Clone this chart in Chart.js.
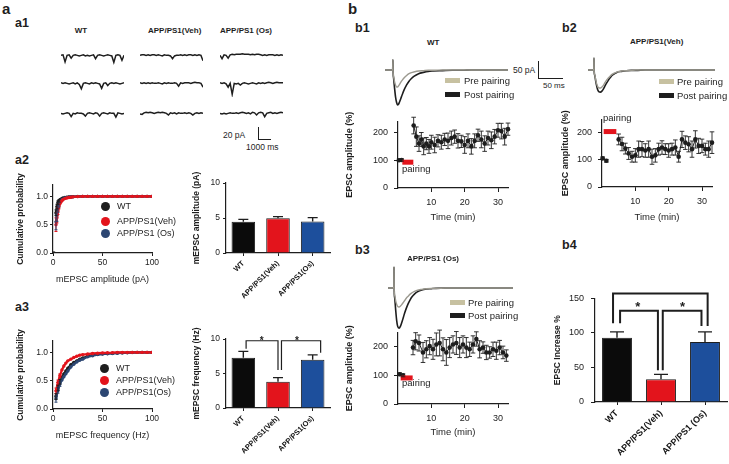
<!DOCTYPE html>
<html><head><meta charset="utf-8">
<script src="https://cdn.jsdelivr.net/npm/chart.js@4/dist/chart.umd.min.js"></script>
<style>
html,body{margin:0;padding:0;background:#fff;}
#page{position:relative;width:729px;height:464px;overflow:hidden;font-family:"Liberation Sans",Arial,sans-serif;color:#1e1e1e;}
.t{position:absolute;white-space:nowrap;line-height:1;}
canvas{position:absolute;}
.sw{position:absolute;}
.dot{position:absolute;border-radius:50%;}
.sb{position:absolute;border-left:1.5px solid #1e1e1e;border-bottom:1.5px solid #1e1e1e;}
</style></head><body><div id="page"></div>
<script>
// ---------------- DATA ----------------
const groups = ['WT', 'APP/PS1(Veh)', 'APP/PS1(Os)'];
const groupsB4 = ['WT', 'APP/PS1(Veh)', 'APP/PS1 (Os)'];

// a1 raw traces (pA), sampled every ~165 ms
const a1Time = [0,165,330,495,660,825,990,1155,1320,1485,1650,1815,1980,2145,2310,2475,2640,2805,2970,3135,3300,3465,3630,3795,3960,4125,4290,4455,4620,4785,4950,5115];
const a1WT1 = [0,1,-12,0,1,-5,0,1,0,-1,0,1,-1,0,-1,0,1,-6,0,1,0,-1,0,1,0,-1,-13,0,1,0,-9,0];
const a1WT2 = [1,0,1,0,-1,0,1,-1,1,-2,-10,0,1,0,-1,1,0,1,0,-1,-9,0,1,-4,0,1,0,1,0,-1,0,1];
const a1WT3 = [0,-1,0,1,0,-6,0,-1,1,0,0,-1,-5,0,1,0,-1,1,0,-5,0,1,0,-1,1,0,0,-7,1,0,-1,0];
const a1Veh1 = [0,1,1,0,1,0,1,1,0,1,0,-1,1,0,0,-1,-6,-1,0,0,1,0,1,0,1,1,0,1,0,1,0,-10];
const a1Veh2 = [1,0,1,0,1,0,1,0,0,1,0,-1,1,0,1,0,0,1,0,-5,1,0,1,1,1,0,1,2,1,1,0,-7];
const a1Veh3 = [-1,-2,1,2,1,2,1,0,1,2,1,2,1,0,-3,1,0,1,-1,1,0,0,1,0,1,0,-3,0,1,0,1,0];
const a1Os1 = [0,-6,1,0,-5,1,2,1,2,2,2,3,2,2,2,1,2,1,2,2,1,0,1,0,1,1,1,0,1,0,1,0];
const a1Os2 = [1,0,1,-1,-7,0,-20,0,-1,0,-3,0,1,0,-1,0,1,0,-1,1,0,1,0,1,2,1,0,1,2,1,1,1];
const a1Os3 = [0,-1,0,-1,0,1,0,0,1,0,1,2,1,0,1,-1,2,1,-3,1,2,1,-6,0,1,2,0,1,0,1,2,1];

// a2 cumulative amplitude
const ampX = [1,2,3,4,5,6,7,8,9,10,12,14,16,18,20,25,30,35,40,45,50,55,60,65,70,75,80,85,90,95,100];
const ampWT = [0,null,0.71,0.82,0.89,0.92,0.94,0.95,0.96,0.97,0.98,0.985,0.99,0.99,0.995,1,1,1,1,1,1,1,1,1,1,1,1,1,1,1,1];
const ampVeh = [null,null,0.50,0.62,0.74,0.82,0.87,0.90,0.92,0.94,0.96,0.97,0.98,0.985,0.99,0.995,1,1,1,1,1,1,1,1,1,1,1,1,1,1,1];
const ampOs = [null,null,0.55,0.66,0.78,0.85,0.89,0.92,0.94,0.95,0.97,0.98,0.985,0.99,0.99,0.995,1,1,1,1,1,1,1,1,1,1,1,1,1,1,1];
const ampWTErr = [0,0,0.05,0.04,0.03,0.02];
const ampVehErr = [0,0,0.12,0.09,0.06,0.04];
const ampOsErr = [0,0,0.14,0.1,0.06,0.04];

// a2 mean amplitude (pA)
const ampMean = [4.47, 4.95, 4.5];
const ampSem = [0.33, 0.25, 0.55];

// a3 cumulative frequency
const freqX = [3,5,7,9,11,13,15,18,21,24,27,30,35,40,45,50,55,60,65,70,75,80,85,90,95,100];
const freqVeh = [0.32,0.47,0.59,0.69,0.76,0.81,0.85,0.88,0.91,0.93,0.95,0.96,0.97,0.98,0.985,0.99,0.993,0.995,1,1,1,1,1,1,1,1];
const freqWT = [0.22,0.37,0.48,0.56,0.62,0.67,0.72,0.78,0.82,0.85,0.88,0.90,0.93,0.95,0.965,0.975,0.98,0.985,0.99,0.993,0.995,1,1,1,1,1];
const freqOs = [0.18,0.33,0.44,0.51,0.57,0.62,0.67,0.74,0.79,0.83,0.86,0.88,0.92,0.94,0.96,0.97,0.975,0.98,0.985,0.99,0.993,0.995,1,1,1,1];
const freqVehErr = [0.05,0.04,0.03];
const freqWTErr = [0.05,0.05,0.04];
const freqOsErr = [0.06,0.05,0.04];

// a3 mean frequency (Hz)
const freqMean = [7.3, 3.8, 7.0];
const freqSem = [0.9, 0.6, 0.7];
const a3Brackets = [[0.08,1.0,9.75,8.6,5.5],[1.1,2.23,9.75,5.5,8.0]];
const a3Stars = [[0.53,10.15],[1.55,10.15]];

// b example EPSC traces (ms, pA)
const b1TraceT = [0,10,15,16,16.5,17,18,20,22,24,26,28,30,33,36,40,45,50,55,60,70,80,90,100,120,140,160,180,200,220,240,256];
const b1Post = [0,0,0,0,30,-8,-25,-55,-80,-95,-103,-101,-95,-84,-72,-58,-44,-33,-25,-19,-11,-7,-4,-3,-2,-1,-1,0,0,0,0,0];
const b1Pre = [0,0,0,0,30,-8,-20,-35,-45,-50,-50,-47,-43,-36,-30,-23,-16,-11,-8,-6,-3,-2,-1,-1,0,0,0,0,0,0,0,0];
const b2TraceT = [0,8,11,12,12.5,13,14,16,18,20,23,26,29,32,35,38,42,46,50,55,60,70,80,90,100,120,140,160,180,200,230,265];
const b2Post = [0,0,0,0,35,-6,-15,-32,-46,-57,-64,-65,-62,-56,-48,-40,-31,-23,-16,-11,-7,-4,-2,-1,-1,0,0,0,0,0,0,0];
const b2Pre = [0,0,0,0,35,-6,-14,-28,-40,-48,-53,-53,-50,-45,-38,-31,-24,-18,-13,-9,-6,-3,-2,-1,0,0,0,0,0,0,0,0];
const b3TraceT = [0,8,11,12,12.5,13,14,16,18,20,23,26,29,32,35,38,42,46,50,55,60,70,80,90,100,120,140,160,180,200,230,260];
const b3Post = [0,0,0,0,62,-10,-30,-65,-95,-112,-118,-112,-100,-86,-72,-60,-46,-35,-26,-18,-12,-6,-3,-2,-1,0,0,0,0,0,0,0];
const b3Pre = [0,0,0,0,62,-10,-22,-38,-48,-54,-56,-53,-48,-42,-36,-30,-24,-18,-14,-10,-7,-4,-2,-1,-1,0,0,0,0,0,0,0];

// b time courses (min, % of baseline)
const b1BaseT = [0.3,1.1], b1BaseV = [100,101], b1BaseE = [4,4];
const b1T = [4.7,5.5,6.3,7,7.7,8.5,9.3,10,11,12,13,14,15,16,17,18,19,20,21,22,23,24,25,26,27,28,29,30,31,32,33];
const b1V = [225,185,160,175,150,160,150,165,155,170,165,175,170,180,185,170,168,155,170,150,170,190,175,160,180,172,185,208,205,185,212];
const b1E = [30,35,28,25,30,22,25,25,28,22,25,22,28,25,24,26,22,30,25,28,25,22,30,28,25,30,26,25,28,30,22];
const b1Pair = [1.3,4.6,93];

const b2BaseT = [0.2,1.3], b2BaseV = [106,97], b2BaseE = [5,5];
const b2T = [5,6,7,8,9,10,11,12,13,14,15,16,17,18,19,20,21,22,23,24,25,26,27,28,29,30,31,32,33];
const b2V = [176,159,142,124,112,117,140,140,135,140,112,117,140,146,140,135,140,146,112,176,164,158,140,176,152,152,140,140,164];
const b2E = [20,25,20,22,20,25,30,28,25,30,28,25,22,25,20,25,22,28,20,30,25,28,30,32,28,25,22,30,40];
const b2Pair = [0.5,4.3,205];

const b3BaseT = [0.5,1.5], b3BaseV = [104,100], b3BaseE = [5,5];
const b3T = [4.5,5.3,6.3,7.5,8.5,9.5,10.5,11.5,12.5,13.5,14.5,15.5,16.5,17.5,18.5,19.5,20.5,21.5,22.5,23.5,24.5,25.5,26.5,27.5,28.5,29.5,30.5,31.5,32.5];
const b3V = [197,219,213,180,191,202,191,208,213,191,180,197,208,213,197,208,197,191,208,227,191,197,180,180,191,186,197,180,169];
const b3E = [25,30,28,35,30,30,35,40,45,40,45,35,30,40,35,30,35,25,30,25,30,20,25,20,25,30,25,22,20];
const b3Pair = [0.8,4.4,91];

// b4 EPSC increase %
const incMean = [93, 33, 87];
const incSem = [8.5, 7, 14.5];
const b4Brackets = [[-0.09,2.06,157,114,110],[0.07,0.93,132,114,46],[1.04,1.92,132,46,110]];
const b4Stars = [[0.475,143],[1.49,143]];

// ---------------- DRAWING ----------------
const FONT = '"Liberation Sans", Arial, sans-serif';
Chart.defaults.font.family = FONT;
Chart.defaults.color = '#222';
const INK = '#1e1e1e', RED = '#e3141c', BLUE = '#1d4f9c', NAVY = '#2c4672', BLACK = '#0b0b0b';
const PRE = '#9c9a90', PRESW = '#c7c1a1';
const page = document.getElementById('page');

function canvasAt(x, y, w, h) {
  const c = document.createElement('canvas');
  c.width = Math.round(w); c.height = Math.round(h);
  c.style.left = Math.round(x) + 'px'; c.style.top = Math.round(y) + 'px';
  c.style.width = Math.round(w) + 'px'; c.style.height = Math.round(h) + 'px';
  page.appendChild(c); return c;
}
function T(txt, x, y, size, bold, align) {
  const d = document.createElement('div');
  d.className = 't'; d.textContent = txt;
  d.style.left = x + 'px'; d.style.top = y + 'px';
  d.style.fontSize = size + 'px'; d.style.fontWeight = bold ? 'bold' : 'normal';
  const tx = align === 'c' ? '-50%' : align === 'r' ? '-100%' : '0';
  d.style.transform = 'translate(' + tx + ',-50%)';
  page.appendChild(d);
}
function box(cls, x, y, w, h, bg) {
  const d = document.createElement('div'); d.className = cls;
  d.style.left = x + 'px'; d.style.top = y + 'px'; d.style.width = w + 'px'; d.style.height = h + 'px';
  if (bg) d.style.background = bg;
  page.appendChild(d);
}

function extras(brackets, stars, starSize, bw) {
  return {
    id: 'extras',
    afterDatasetsDraw(chart) {
      const ctx = chart.ctx, xs = chart.scales.x, ys = chart.scales.y;
      chart.data.datasets.forEach((ds, di) => {
        if (!ds.err) return;
        const meta = chart.getDatasetMeta(di);
        meta.data.forEach((el, i) => {
          const raw = ds.data[i];
          const v = (raw !== null && typeof raw === 'object') ? raw.y : raw;
          const e = ds.err[i];
          if (v == null || !e) return;
          const px = el.x;
          const yT = ys.getPixelForValue(v + e);
          const yB = ds.upOnly ? el.y : ys.getPixelForValue(v - e);
          const c = ds.capW || 3;
          ctx.save();
          ctx.strokeStyle = ds.errColor || INK; ctx.lineWidth = ds.errWidth || 1;
          ctx.beginPath();
          ctx.moveTo(px, yB); ctx.lineTo(px, yT);
          ctx.moveTo(px - c, yT); ctx.lineTo(px + c, yT);
          if (!ds.upOnly) { ctx.moveTo(px - c, yB); ctx.lineTo(px + c, yB); }
          ctx.stroke(); ctx.restore();
        });
      });
      if (brackets) {
        ctx.save(); ctx.strokeStyle = INK; ctx.lineWidth = bw || 1.2;
        brackets.forEach(b => {
          const x1 = xs.getPixelForValue(b[0]), x2 = xs.getPixelForValue(b[1]);
          const y = ys.getPixelForValue(b[2]);
          ctx.beginPath();
          ctx.moveTo(x1, ys.getPixelForValue(b[3])); ctx.lineTo(x1, y);
          ctx.lineTo(x2, y); ctx.lineTo(x2, ys.getPixelForValue(b[4]));
          ctx.stroke();
        });
        ctx.restore();
      }
      if (stars) {
        ctx.save(); ctx.fillStyle = INK;
        ctx.font = 'bold ' + starSize + 'px ' + FONT;
        ctx.textAlign = 'center'; ctx.textBaseline = 'middle';
        stars.forEach(s => ctx.fillText('*', xs.getPixelForValue(s[0]), ys.getPixelForValue(s[1]) + starSize * 0.3));
        ctx.restore();
      }
    }
  };
}

function place(bx, m, config) {
  const left = Math.round(bx.x0 - m.l), top = Math.round(bx.y0 - m.t);
  const w = Math.round(bx.x1 - bx.x0) + m.l + m.r, h = Math.round(bx.y1 - bx.y0) + m.t + m.b;
  const c = canvasAt(left, top, w, h);
  const o = config.options;
  o.responsive = false; o.animation = false; o.maintainAspectRatio = false;
  o.layout = { padding: { left: 0, right: m.r, top: m.t, bottom: 0 } };
  o.plugins = Object.assign({ legend: { display: false }, tooltip: { enabled: false } }, o.plugins || {});
  o.scales.x.afterFit = s => { s.height = m.b; };
  o.scales.y.afterFit = s => { s.width = m.l; };
  return new Chart(c, config);
}
function axisBase(tl, pad, size, bold) {
  return {
    grid: { drawOnChartArea: false, drawTicks: true, tickLength: tl, color: INK, lineWidth: 1 },
    border: { display: true, color: INK, width: 1.2 },
    ticks: { padding: pad, color: '#222', includeBounds: false, font: { size: size, weight: bold ? 'bold' : 'normal' } }
  };
}
function titleOf(text, size, bold) {
  return { display: true, text: text, color: '#1e1e1e', padding: 0, font: { size: size, weight: bold ? 'bold' : 'normal' } };
}

function trace(x, y, w, h, xr, yr, sets, smooth) {
  const c = canvasAt(x, y, w, h);
  return new Chart(c, {
    type: 'line',
    data: { datasets: sets.map(s => ({ data: s.t.map((t, i) => ({ x: t, y: s.v[i] })), borderColor: s.c, borderWidth: s.w || 1.2, pointRadius: 0, cubicInterpolationMode: smooth ? 'monotone' : 'default', tension: 0 })) },
    options: { responsive: false, animation: false, layout: { padding: 0 },
      plugins: { legend: { display: false }, tooltip: { enabled: false } },
      scales: { x: { type: 'linear', display: false, min: xr[0], max: xr[1] }, y: { display: false, min: yr[0], max: yr[1] } } }
  });
}

function cumChart(bx, xs, series, xTitle) {
  const x = Object.assign(axisBase(3, 2, 8.5), { type: 'linear', min: 0, max: 100, title: titleOf(xTitle, 9, false) });
  x.ticks.stepSize = 50; x.ticks.maxRotation = 0;
  const y = Object.assign(axisBase(3, 2, 8.5), { min: 0, max: 1.2, title: titleOf('Cumulative probability', 8.5, true) });
  y.ticks.stepSize = 0.5; y.ticks.callback = v => v.toFixed(1);
  y.afterBuildTicks = s => { s.ticks = s.ticks.filter(t => Math.abs(t.value * 2 - Math.round(t.value * 2)) < 1e-6); };
  place(bx, { l: 37, r: 10, t: 18, b: 32 }, {
    type: 'line',
    data: { datasets: series.map(s => ({ data: xs.map((xv, i) => ({ x: xv, y: s.v[i] })), borderColor: s.c, backgroundColor: s.c, borderWidth: 2.2, pointRadius: 1.7, pointBorderWidth: 0, spanGaps: false, err: s.e, capW: 1.5, errColor: s.c, errWidth: 1 })) },
    options: { scales: { x: x, y: y } },
    plugins: [extras()]
  });
}

function barChart(bx, m, labels, vals, errs, yMax, yStep, yTitle, lblSize, tickSize, capW, brk, stars, starSize, bw, tl, tp) {
  const x = Object.assign(axisBase(3, 3, lblSize, true), { type: 'category' });
  x.grid.offset = false; x.ticks.maxRotation = 45; x.ticks.minRotation = 45; x.ticks.autoSkip = false; x.ticks.color = '#111';
  const y = Object.assign(axisBase(tl, tp, tickSize), { min: 0, max: yMax, title: titleOf(yTitle, 8.5, true) });
  y.ticks.stepSize = yStep;
  place(bx, m, {
    type: 'bar',
    data: { labels: labels, datasets: [{ data: vals, backgroundColor: [BLACK, RED, BLUE], borderColor: INK, borderWidth: 1, barPercentage: 0.68, categoryPercentage: 1, err: errs, upOnly: true, capW: capW, errWidth: 1.4 }] },
    options: { scales: { x: x, y: y } },
    plugins: [extras(brk, stars, starSize, bw)]
  });
}

function timeChart(bx, m, baseT, baseV, baseE, t, v, e, pair, yMax) {
  const x = Object.assign(axisBase(4, 5, 9), { type: 'linear', min: 0, max: 33, title: titleOf('Time (min)', 9.5, false) });
  x.ticks.stepSize = 10; x.ticks.maxRotation = 0; x.ticks.autoSkip = false;
  x.afterBuildTicks = s => { s.ticks = s.ticks.filter(tk => tk.value > 0 && tk.value % 10 === 0); };
  const y = Object.assign(axisBase(4, 6, 9), { min: 0, max: yMax, title: titleOf('EPSC amplitude (%)', 9, true) });
  y.ticks.stepSize = 100;
  y.afterBuildTicks = s => { s.ticks = s.ticks.filter(tk => tk.value % 100 === 0); };
  const pts = (tt, vv, ee) => ({ data: tt.map((q, i) => ({ x: q, y: vv[i] })), borderColor: INK, backgroundColor: INK, borderWidth: 1, pointRadius: 2.3, pointBorderWidth: 0, err: ee, capW: 2.3, errWidth: 0.9, clip: false });
  place(bx, m, {
    type: 'line',
    data: { datasets: [
      { data: [{ x: pair[0], y: pair[2] }, { x: pair[1], y: pair[2] }], borderColor: RED, borderWidth: 5, pointRadius: 0, clip: false },
      pts(baseT, baseV, baseE), pts(t, v, e)
    ] },
    options: { scales: { x: x, y: y } },
    plugins: [extras()]
  });
}

// ---- panel a1: raw traces ----
const a1Cols = [61, 140, 220], a1Rows = [56, 84, 114];
const a1Sets = [[a1WT1, a1WT2, a1WT3], [a1Veh1, a1Veh2, a1Veh3], [a1Os1, a1Os2, a1Os3]];
a1Sets.forEach((col, ci) => col.forEach((tr, ri) => {
  trace(a1Cols[ci], a1Rows[ri] - 5, 63, 18, [0, 5115], [-25, 8], [{ t: a1Time, v: tr, c: INK, w: 1.5 }], false);
}));

// ---- a2 / a3 cumulative ----
cumChart({ x0: 53, x1: 152, y0: 185, y1: 253 }, ampX, [
  { v: ampVeh, c: RED, e: ampVehErr }, { v: ampOs, c: NAVY, e: ampOsErr }, { v: ampWT, c: INK, e: ampWTErr }
], 'mEPSC amplitude (pA)');
cumChart({ x0: 53, x1: 152, y0: 341, y1: 409 }, freqX, [
  { v: freqVeh, c: RED, e: freqVehErr }, { v: freqOs, c: NAVY, e: freqOsErr }, { v: freqWT, c: INK, e: freqWTErr }
], 'mEPSC frequency (Hz)');

// ---- a2 / a3 bars ----
barChart({ x0: 226, x1: 330, y0: 183, y1: 253 }, { l: 34, r: 6, t: 18, b: 58 }, groups, ampMean, ampSem, 10, 5,
  'mEPSC amplitude (pA)', 7.5, 8.5, 5, null, null, 0, 1.2, 3, 3);
barChart({ x0: 226, x1: 330, y0: 339, y1: 408 }, { l: 34, r: 6, t: 18, b: 55 }, groups, freqMean, freqSem, 10, 5,
  'mEPSC frequency (Hz)', 7.5, 8.5, 5, a3Brackets, a3Stars, 10, 1.2, 3, 3);

// ---- b traces ----
trace(385, 58, 123, 50, [0, 256], [-112, 35.3], [{ t: b1TraceT, v: b1Pre, c: PRE, w: 1.4 }, { t: b1TraceT, v: b1Post, c: INK, w: 1.6 }], true);
trace(588, 55, 127, 45, [0, 265], [-88, 44], [{ t: b2TraceT, v: b2Pre, c: PRE, w: 1.4 }, { t: b2TraceT, v: b2Post, c: INK, w: 1.6 }], true);
trace(388, 262, 125, 70, [0, 260], [-129.4, 76.5], [{ t: b3TraceT, v: b3Pre, c: PRE, w: 1.4 }, { t: b3TraceT, v: b3Post, c: INK, w: 1.6 }], true);

// ---- b time courses ----
timeChart({ x0: 398, x1: 508, y0: 118, y1: 188 }, { l: 54, r: 8, t: 8, b: 35 }, b1BaseT, b1BaseV, b1BaseE, b1T, b1V, b1E, b1Pair, 240);
timeChart({ x0: 602, x1: 712, y0: 116, y1: 187 }, { l: 42, r: 8, t: 8, b: 36 }, b2BaseT, b2BaseV, b2BaseE, b2T, b2V, b2E, b2Pair, 250);
timeChart({ x0: 398, x1: 508, y0: 329, y1: 404 }, { l: 54, r: 8, t: 8, b: 34 }, b3BaseT, b3BaseV, b3BaseE, b3T, b3V, b3E, b3Pair, 250);

// ---- b4 bars ----
barChart({ x0: 595, x1: 727, y0: 298, y1: 402 }, { l: 42, r: 4, t: 12, b: 60 }, groupsB4, incMean, incSem, 150, 50,
  'EPSC Increase %', 9, 9, 7, b4Brackets, b4Stars, 13, 2, 4, 7);

// ---------------- TEXT & DECOR ----------------
T('a', 2, 8, 15, true); T('a1', 15, 23, 12.5, true); T('a2', 15, 160, 12.5, true); T('a3', 15, 307, 12.5, true);
T('b', 348, 8, 15, true); T('b1', 355, 28, 12.5, true); T('b2', 562, 28, 12.5, true);
T('b3', 355, 250, 12.5, true); T('b4', 562, 245, 12.5, true);

T('WT', 81, 30.5, 8, true, 'c'); T('APP/PS1(Veh)', 148, 30.5, 8, true); T('APP/PS1 (Os)', 220, 30.5, 8, true);
box('sb', 258, 127, 12, 12); T('20 pA', 223, 135, 8.5, false); T('1000 ms', 246, 147, 8.5, false);

// cumulative legends
[[206, INK, 'WT'], [221, RED, 'APP/PS1(Veh)'], [233, NAVY, 'APP/PS1 (Os)']].forEach(r => { box('dot', 100.5, r[0] - 4.5, 9, 9, r[1]); T(r[2], 117, r[0], 9, false); });
[[368, INK, 'WT'], [380, RED, 'APP/PS1(Veh)'], [392, NAVY, 'APP/PS1(Os)']].forEach(r => { box('dot', 99.5, r[0] - 4.5, 9, 9, r[1]); T(r[2], 116, r[0], 9, false); });

// b1
T('WT', 427, 42.5, 8, true);
T('50 pA', 513, 70, 8.5, false); box('sb', 538, 61, 24, 17); T('50 ms', 543, 86, 8, false);
box('sw', 445, 78, 15, 5, PRESW); T('Pre pairing', 464, 81, 9.5, false);
box('sw', 445, 92, 15, 5, INK); T('Post pairing', 464, 95, 9.5, false);
T('pairing', 402, 169, 9.5, false);
// b2
T('APP/PS1(Veh)', 630, 42, 8, true);
box('sw', 659, 79, 15, 5, PRESW); T('Pre pairing', 677, 81.5, 9.5, false);
box('sw', 659, 93, 15, 5, INK); T('Post pairing', 677, 95.5, 9.5, false);
T('pairing', 603, 118, 9.5, false);
// b3
T('APP/PS1 (Os)', 407, 259, 8, true);
box('sw', 450, 300, 15, 5, PRESW); T('Pre pairing', 468, 302.5, 9.5, false);
box('sw', 450, 313, 15, 5, INK); T('Post pairing', 468, 315.5, 9.5, false);
T('pairing', 402, 383, 9.5, false);
</script>
</body></html>
